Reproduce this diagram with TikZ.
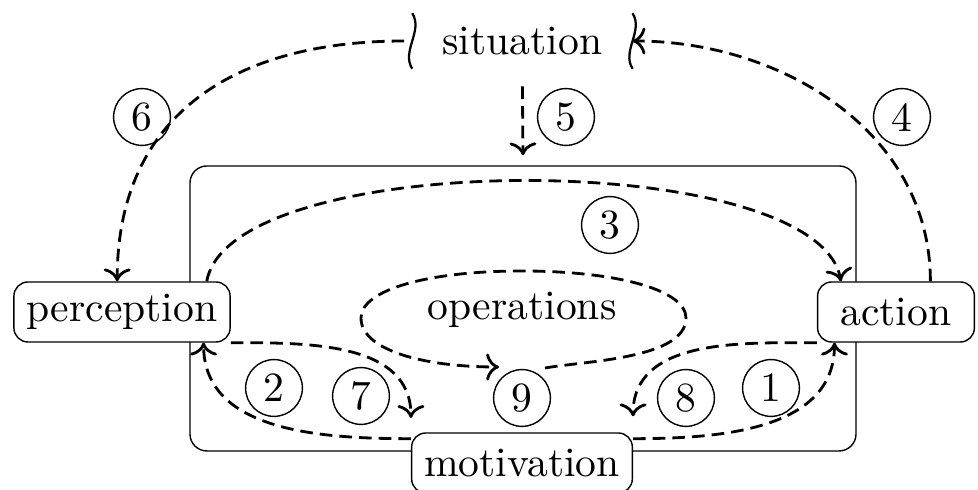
\documentclass[tikz,border=0pt]{standalone}
\usepackage{fontspec}
\setmainfont{lmroman10-regular.otf}
\usepackage{amsmath,amssymb}
\usepackage{tikz}
\usetikzlibrary{arrows.meta}

\newcommand{\lbl}{\fontsize{14.8}{18}\selectfont}

\tikzset{
  box/.style={draw, line width=0.5pt, rounded corners=5pt, inner xsep=4.5pt,
    minimum height=0.75cm, fill=white, font=\lbl},
  num/.style={circle, draw, line width=0.5pt, minimum size=0.71cm,
    inner sep=0pt, font=\lbl},
  flow/.style={-{To[scale=1.2]}, line width=1pt, dash pattern=on 4.5pt off 2.5pt},
}

\begin{document}
\begin{tikzpicture}
    \useasboundingbox (0, 0) rectangle (12.225, 6.125);

    % outer frame
    \node [draw, line width=0.5pt, rounded corners=6pt, minimum width=8.325cm,
      minimum height=3.5625cm] (frame) at (6.5375, 2.269) {};

    \node [box] (perc) at (1.525, 2.225) {perception};
    \node [box, minimum width=1.96cm] (act) at (11.2, 2.225) {action};
    \node [box] (mot) at (6.525, 0.3375) {motivation};
    \node [font=\lbl] (ops) at (6.525, 2.25) {operations};

    % situation with wavy sides
    \node [font=\lbl, minimum width=2.74cm, minimum height=0.68cm] (sit) at (6.53, 5.6125) {situation};
    \draw [line width=0.8pt] (sit.north west) .. controls +(0.14, -0.22) and +(-0.14, 0.22) .. (sit.south west);
    \draw [line width=0.8pt] (sit.north east) .. controls +(0.14, -0.22) and +(-0.14, 0.22) .. (sit.south east);

    \node [num] (n1) at (9.6375, 1.275) {1};
    \node [num] (n2) at (3.425, 1.275) {2};
    \node [num] (n3) at (7.625, 3.3125) {3};
    \node [num] (n4) at (11.275, 4.6625) {4};
    \node [num] (n5) at (7.075, 4.6625) {5};
    \node [num] (n6) at (1.775, 4.6625) {6};
    \node [num] (n7) at (4.5125, 1.175) {7};
    \node [num] (n8) at (8.575, 1.15) {8};
    \node [num] (n9) at (6.525, 1.15) {9};

    % outer loop
    \draw [flow] ([xshift=-0.1cm]sit.west) to[out=180, in=90, looseness=1.15] ([xshift=-0.06cm]perc.north);
    \draw [flow] ([xshift=0.43cm]act.north) to[out=90, in=0] (sit.east);
    \draw [flow] ([yshift=-0.22cm]sit.south) -- ([yshift=0.125cm]frame.north);
    \draw [flow] ([xshift=-0.3cm]perc.north east) to[out=80, in=100, looseness=0.55] ([xshift=0.3cm]act.north west);

    % inner loops
    \draw [flow] ([yshift=-0.08cm]mot.north west) to[out=180, in=-90] ([xshift=-0.34cm]perc.south east);
    \draw [flow] (perc.south east) to[out=0, in=90] ([yshift=0.18cm]mot.north west);
    \draw [flow] (act.south west) to[out=180, in=90] ([yshift=0.2cm]mot.north east);
    \draw [flow] ([yshift=-0.08cm]mot.north east) to[out=0, in=-90] ([xshift=0.22cm]act.south west);

    % operations
    \coordinate (o1) at (6.8125, 1.525);
    \coordinate (o2) at (8.575, 2.15);
    \coordinate (o3) at (6.525, 2.7375);
    \coordinate (o4) at (4.5125, 2.15);
    \coordinate (o5) at (6.2375, 1.5375);
    \draw [flow] (o1) to[out=10, in=-90, looseness=0.7] (o2)
      .. controls +(0, 0.36) and +(1.15, 0) .. (o3)
      .. controls +(-1.15, 0) and +(0, 0.36) .. (o4)
      .. controls +(0, -0.4) and +(-0.95, 0) .. (o5);
\end{tikzpicture}
\end{document}
